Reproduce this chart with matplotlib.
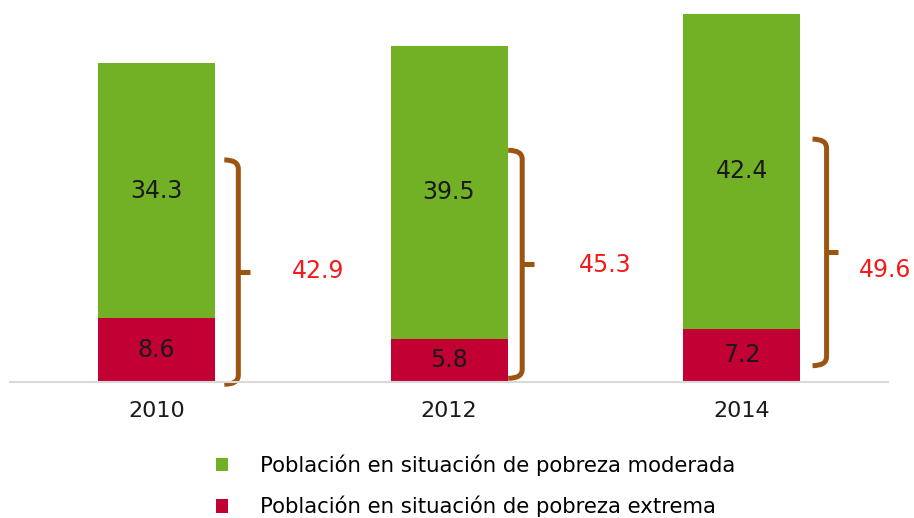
import matplotlib.pyplot as plt
from matplotlib.path import Path
from matplotlib.patches import PathPatch

# dati ---------------------------------------------------------------
anni = ["2010", "2012", "2014"]
extrema = [8.6, 5.8, 7.2]
moderada = [34.3, 39.5, 42.4]
totale = [42.9, 45.3, 49.6]

# graffe (decorative): limiti in unita' dei dati
graffa_basso = [-0.3, 0.5, 2.2]
graffa_alto = [29.9, 31.2, 32.7]
graffa_dx = [0.28, 0.25, 0.29]
etichetta_dx = [0.554, 0.533, 0.49]
etichetta_y = [14.9, 15.7, 15.1]

verde = "#72B026"
rosso = "#C20034"
marrone = "#9C5511"
rosso_testo = "#F21B1B"

plt.rcParams['font.family'] = ['DejaVu Sans']

fig = plt.figure(figsize=(9.14, 5.18), dpi=100)
ax = fig.add_axes([0.011, 0.2625, 0.9606, 0.717])

x = list(range(len(anni)))
b1 = ax.bar(x, extrema, width=0.4, color=rosso, label="Población en situación de pobreza extrema")
b2 = ax.bar(x, moderada, width=0.4, bottom=extrema, color=verde,
            label="Población en situación de pobreza moderada")

for i in x:
    ax.text(i, extrema[i] / 2, f"{extrema[i]:.1f}", ha="center", va="center",
            fontsize=17, color="#1a1a1a")
    ax.text(i, extrema[i] + moderada[i] / 2, f"{moderada[i]:.1f}", ha="center",
            va="center", fontsize=17, color="#1a1a1a")

    # graffa
    xc = i + graffa_dx[i]
    lo, hi = graffa_basso[i], graffa_alto[i]
    gancio = 0.048
    verts = [(xc - gancio, lo), (xc, lo), (xc, lo + 1.2),
             (xc, hi - 1.2), (xc, hi), (xc - gancio, hi)]
    codes = [Path.MOVETO, Path.CURVE3, Path.CURVE3,
             Path.LINETO, Path.CURVE3, Path.CURVE3]
    ax.add_patch(PathPatch(Path(verts, codes), fill=False, edgecolor=marrone,
                           lw=3.6, capstyle="butt", joinstyle="round", clip_on=False))
    mid = (lo + hi) / 2
    ax.plot([xc, xc + 0.04], [mid, mid], color=marrone, lw=3.6,
            solid_capstyle="butt", clip_on=False)

    ax.text(i + etichetta_dx[i], etichetta_y[i], f"{totale[i]:.1f}", ha="center",
            va="center", fontsize=17, color=rosso_testo)

ax.set_xlim(-0.5, 2.5)
ax.set_ylim(0, 50)
ax.set_xticks(x)
ax.set_xticklabels(anni, fontsize=16, color="#1a1a1a")
ax.tick_params(axis="x", length=0, pad=14)
ax.set_yticks([])
for s in ["top", "left", "right"]:
    ax.spines[s].set_visible(False)
ax.spines["bottom"].set_color("#d9d9d9")
ax.spines["bottom"].set_linewidth(1.5)

fig.legend(handles=[b2, b1], loc="upper left", bbox_to_anchor=(0.236, 0.1224),
           frameon=False, fontsize=15.3, handlelength=0.6, handleheight=0.6,
           handletextpad=1.5, labelspacing=0.93, borderaxespad=0, borderpad=0)

fig.savefig("out.png", dpi=100)
